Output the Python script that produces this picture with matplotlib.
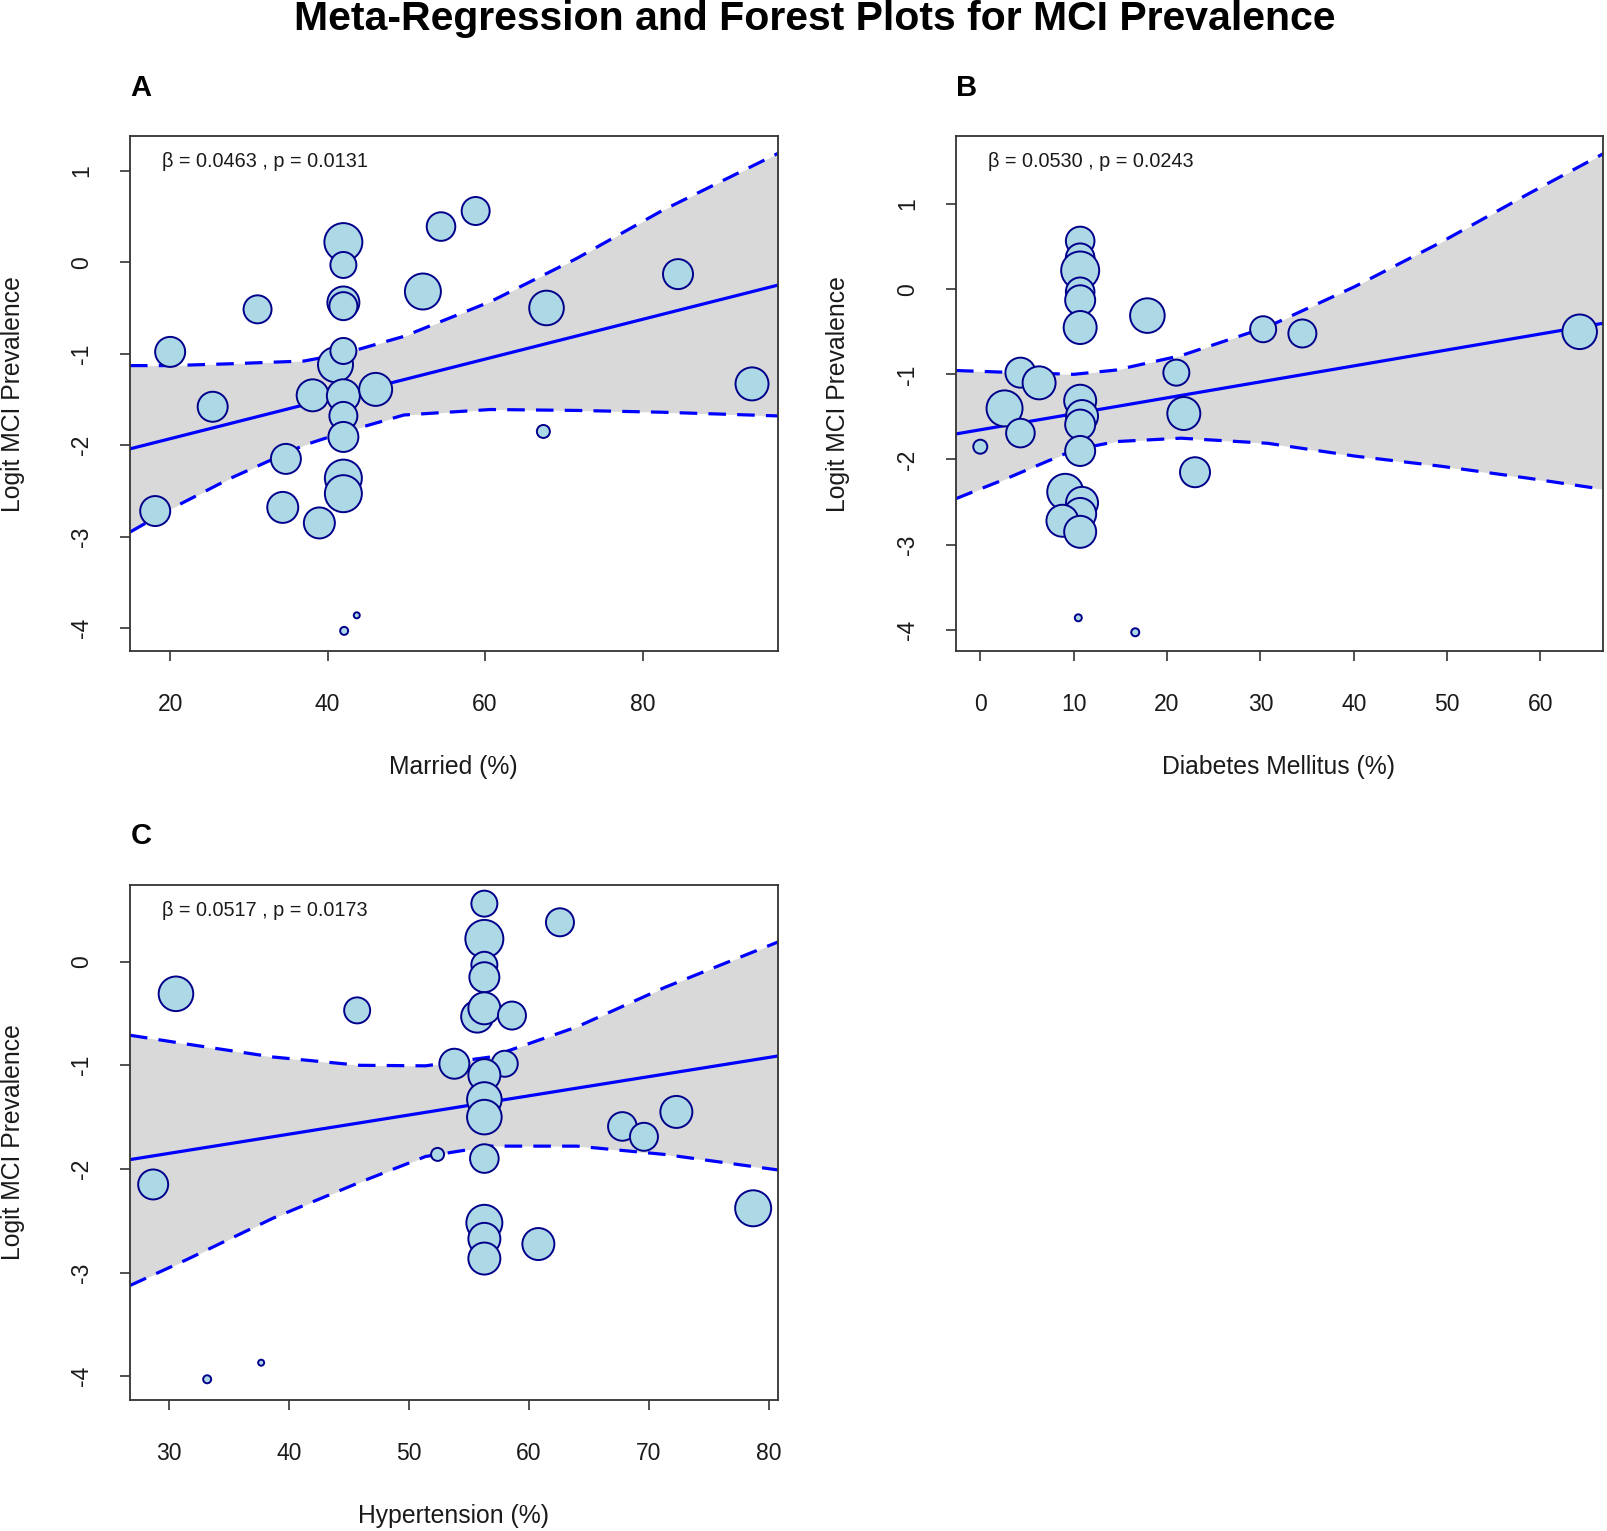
import numpy as np
import matplotlib.pyplot as plt

plt.rcParams['font.family'] = ['Liberation Sans', 'DejaVu Sans']

# --- A: Married (%) ---
marriedX = [20.0, 18.1, 25.4, 31.1, 34.7, 34.3, 38.1, 38.95, 41.0, 42.0, 42.0, 42.0, 42.0,
            42.0, 42.0, 42.0, 42.0, 42.0, 42.0, 46.1, 52.1, 54.4, 58.8, 67.8, 67.4, 84.5,
            93.9, 43.7, 42.1]
marriedY = [-0.98, -2.72, -1.58, -0.515, -2.15, -2.68, -1.455, -2.85, -1.12, 0.22, -0.03,
            -0.44, -0.48, -0.97, -1.46, -1.68, -1.91, -2.36, -2.53, -1.39, -0.32, 0.39,
            0.56, -0.50, -1.85, -0.13, -1.33, -3.86, -4.03]
marriedW = [15, 15, 15, 14, 15, 15.5, 16, 15.5, 17.5, 19, 13, 16, 14, 13, 16.5, 14, 15,
            18.5, 18.5, 16.5, 18, 14.3, 14, 17.3, 6.5, 15, 16.5, 3, 4]
marriedFitX = [14.9, 97.2]
marriedFitY = [-2.04, -0.25]
marriedBandX = [14.9, 20.0, 27.7, 37.0, 42.0, 49.7, 60.7, 71.6, 82.6, 97.2]
marriedUpper = [-1.13, -1.13, -1.11, -1.08, -1.00, -0.81, -0.43, 0.04, 0.57, 1.19]
marriedLower = [-2.95, -2.70, -2.36, -2.00, -1.86, -1.67, -1.61, -1.62, -1.64, -1.68]

# --- B: Diabetes Mellitus (%) ---
diabetesX = [10.7, 10.7, 10.7, 10.7, 10.7, 10.7, 17.9, 30.3, 34.5, 64.2, 4.3, 6.3, 21.0,
             2.6, 4.3, 0.0, 10.7, 10.9, 10.7, 10.7, 21.8, 23.0, 9.1, 10.9, 10.7, 8.8,
             10.7, 10.5, 16.6]
diabetesY = [0.567, 0.37, 0.22, -0.03, -0.13, -0.45, -0.31, -0.47, -0.52, -0.50, -0.98,
             -1.10, -0.98, -1.40, -1.69, -1.85, -1.31, -1.49, -1.59, -1.90, -1.46, -2.15,
             -2.38, -2.51, -2.64, -2.72, -2.85, -3.86, -4.03]
diabetesW = [14.3, 14.3, 19, 14.3, 15, 16.5, 17.3, 13, 14, 17.3, 15, 16.5, 13, 18, 14.3,
             7, 16, 16, 15, 15, 16.5, 15, 18, 16, 16, 16, 16, 3.5, 4]
diabetesFitX = [-2.6, 66.7]
diabetesFitY = [-1.70, -0.40]
diabetesBandX = [-2.6, 2.9, 10.0, 14.5, 21.5, 30.8, 40.1, 49.4, 58.7, 66.7]
diabetesUpper = [-0.955, -0.976, -1.00, -0.95, -0.78, -0.44, 0.03, 0.555, 1.12, 1.59]
diabetesLower = [-2.46, -2.22, -1.89, -1.79, -1.75, -1.81, -1.96, -2.08, -2.22, -2.35]

# --- C: Hypertension (%) ---
hyperX = [56.3, 62.6, 56.3, 56.3, 56.3, 30.6, 45.7, 55.7, 56.3, 58.6, 53.8, 58.0, 56.3,
          56.3, 56.3, 67.8, 69.6, 72.3, 52.4, 56.3, 28.7, 78.7, 56.3, 56.3, 60.8, 56.3,
          37.7, 33.2]
hyperY = [0.56, 0.38, 0.22, -0.03, -0.15, -0.31, -0.47, -0.53, -0.45, -0.52, -0.985,
          -0.985, -1.095, -1.33, -1.50, -1.59, -1.69, -1.45, -1.86, -1.90, -2.15, -2.38,
          -2.52, -2.675, -2.725, -2.865, -3.87, -4.03]
hyperW = [13, 14, 19, 13, 15, 17.3, 13, 16, 16, 14, 15, 13, 16, 17.3, 17.3, 14.3, 14,
          16, 6.5, 14.3, 15, 18, 18, 16, 16, 16, 3, 4]
hyperFitX = [26.77, 80.77]
hyperFitY = [-1.91, -0.91]
hyperBandX = [26.77, 31.5, 38.7, 45.9, 51.4, 56.8, 64.0, 71.3, 80.77]
hyperUpper = [-0.71, -0.795, -0.92, -1.00, -1.005, -0.92, -0.63, -0.25, 0.19]
hyperLower = [-3.125, -2.875, -2.475, -2.13, -1.88, -1.78, -1.78, -1.86, -2.01]

W, H = 1607, 1531
fig = plt.figure(figsize=(W / 100, H / 100), dpi=100)


def px_axes(left, right, top, bottom):
    return fig.add_axes([left / W, 1 - bottom / H, (right - left) / W, (bottom - top) / H])


def panel(ax, x, y, w, fitx, fity, bx, up, lo, xlim, ylim, xticks, yticks, note):
    ax.fill_between(bx, lo, up, color='#d9d9d9', lw=0, zorder=1)
    ax.plot(bx, up, color='#0000ff', lw=2.3, ls=(0, (5.5, 3.5)), zorder=2)
    ax.plot(bx, lo, color='#0000ff', lw=2.3, ls=(0, (5.5, 3.5)), zorder=2)
    ax.plot(fitx, fity, color='#0000ff', lw=2.3, zorder=2)
    s = (2 * np.array(w) * 0.72) ** 2
    ax.scatter(x, y, s=s, facecolor='#add8e6', edgecolor='#00008b', linewidth=1.4, zorder=3)
    ax.set_xlim(*xlim)
    ax.set_ylim(*ylim)
    ax.set_xticks(xticks)
    ax.set_yticks(yticks)
    ax.set_yticklabels([str(t) for t in yticks], rotation=90, va='center')
    ax.tick_params(direction='out', length=7.5, width=1.2, labelsize=16.5, color='#333333',
                   labelcolor='#1a1a1a')
    ax.tick_params(axis='x', pad=23)
    ax.tick_params(axis='y', pad=19)
    for sp in ax.spines.values():
        sp.set_linewidth(1.3)
        sp.set_color('#333333')
    ax.text(0.05, 0.95, note, transform=ax.transAxes, fontsize=14.3, va='center', ha='left',
            color='#1a1a1a')


axA = px_axes(130, 778, 136, 651)
panel(axA, marriedX, marriedY, marriedW, marriedFitX, marriedFitY, marriedBandX,
      marriedUpper, marriedLower, (14.9, 97.2), (-4.25, 1.38), [20, 40, 60, 80],
      [-4, -3, -2, -1, 0, 1], 'β = 0.0463 , p = 0.0131')
axB = px_axes(956, 1603, 136, 651)
panel(axB, diabetesX, diabetesY, diabetesW, diabetesFitX, diabetesFitY, diabetesBandX,
      diabetesUpper, diabetesLower, (-2.6, 66.7), (-4.25, 1.80), [0, 10, 20, 30, 40, 50, 60],
      [-4, -3, -2, -1, 0, 1], 'β = 0.0530 , p = 0.0243')
axC = px_axes(130, 778, 885, 1400)
panel(axC, hyperX, hyperY, hyperW, hyperFitX, hyperFitY, hyperBandX, hyperUpper,
      hyperLower, (26.77, 80.77), (-4.23, 0.74), [30, 40, 50, 60, 70, 80],
      [-4, -3, -2, -1, 0], 'β = 0.0517 , p = 0.0173')


def ftext(x, y, s, **kw):
    fig.text(x / W, 1 - y / H, s, **kw)


ftext(815, 19, 'Meta-Regression and Forest Plots for MCI Prevalence', fontsize=29.5,
      fontweight='bold', ha='center', va='center')
for lx, ly, letter in [(141, 88, 'A'), (967, 88, 'B'), (141, 836, 'C')]:
    ftext(lx, ly, letter, fontsize=21, fontweight='bold', ha='center', va='center')

lab = dict(fontsize=17.8, ha='center', va='center', color='#1a1a1a')
ftext(453, 767, 'Married (%)', **lab)
ftext(1279, 767, 'Diabetes Mellitus (%)', **lab)
ftext(453, 1516, 'Hypertension (%)', **lab)
ftext(13, 394, 'Logit MCI Prevalence', rotation=90, **lab)
ftext(838, 394, 'Logit MCI Prevalence', rotation=90, **lab)
ftext(13, 1142, 'Logit MCI Prevalence', rotation=90, **lab)

fig.savefig('out.png', dpi=100, facecolor='white')
